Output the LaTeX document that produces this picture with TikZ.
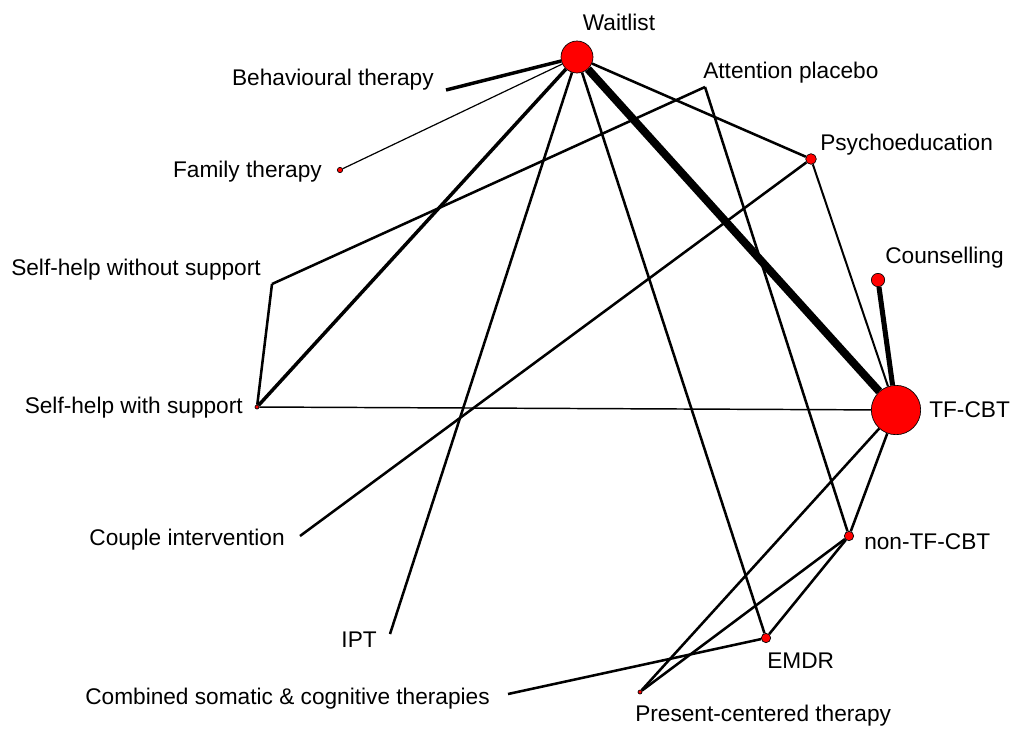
\documentclass[tikz,border=0pt]{standalone}
\usepackage{fontspec}
\setmainfont{Liberation Sans}
\usetikzlibrary{backgrounds}
\tikzset{
  trt/.style={circle, fill=red, draw=black, line width=0.5pt, inner sep=0pt, minimum size=#1},
  lab/.style={inner sep=0pt, font=\fontsize{17}{20}\selectfont},
  link/.style={draw=black, line width=#1}
}
\begin{document}
\begin{tikzpicture}[x=0.75pt,y=0.75pt,yscale=-1,xscale=1]
\path[use as bounding box] (0,0) rectangle (1012,733);

%Treatments with a marker
\node[trt=24] (wl) at (577,57) {};
\node[trt=37] (tf) at (896,410) {};
\node[trt=10] (co) at (878,280) {};
\node[trt=8] (pe) at (811,159) {};
\node[trt=7] (ntf) at (849,536) {};
\node[trt=7] (emdr) at (766,638) {};
\node[trt=4] (ft) at (340,170) {};
\node[trt=3] (shs) at (257,407) {};
\node[trt=3] (pc) at (640,692) {};
%Treatments without a marker
\coordinate (bt) at (446,90);
\coordinate (ap) at (705,87);
\coordinate (shw) at (272,284);
\coordinate (ci) at (300,536);
\coordinate (ipt) at (390,634);
\coordinate (cs) at (508,694);

\begin{pgfonlayer}{background}
%Lines from Waitlist
\draw[link=2.6pt] (wl) -- (bt);
\draw[link=0.9pt] (wl) -- (ft);
\draw[link=2.6pt] (wl) -- (shs);
\draw[link=1.9pt] (wl) -- (ipt);
\draw[link=1.9pt] (wl) -- (emdr);
\draw[link=6pt] (wl) -- (tf);
\draw[link=1.9pt] (wl) -- (pe);
%Other lines
\draw[link=1.9pt] (ap) -- (shw);
\draw[link=1.9pt] (ap) -- (ntf);
\draw[link=1.9pt] (pe) -- (ci);
\draw[link=1.5pt] (pe) -- (tf);
\draw[link=3.8pt] (co) -- (tf);
\draw[link=1.9pt] (shw) -- (shs);
\draw[link=1.1pt] (shs) -- (tf);
\draw[link=1.9pt] (tf) -- (ntf);
\draw[link=1.9pt] (tf) -- (pc);
\draw[link=1.9pt] (ntf) -- (emdr);
\draw[link=1.9pt] (ntf) -- (pc);
\draw[link=1.9pt] (emdr) -- (cs);
\end{pgfonlayer}

% Text Node
\node[lab] (wl-t) at (619,22) {Waitlist};
% Text Node
\node[lab, anchor=east] (bt-t) at (434,80) {Behavioural therapy};
% Text Node
\node[lab, anchor=east] (ft-t) at (322,172) {Family therapy};
% Text Node
\node[lab, anchor=west] (ap-t) at (703,73) {Attention placebo};
% Text Node
\node[lab, anchor=west] (pe-t) at (820,145) {Psychoeducation};
% Text Node
\node[lab, anchor=west] (co-t) at (885,258) {Counselling};
% Text Node
\node[lab, anchor=east] (shw-t) at (261,270) {Self-help without support};
% Text Node
\node[lab, anchor=east] (shs-t) at (243,408) {Self-help with support};
% Text Node
\node[lab, anchor=west] (tf-t) at (929,410) {TF-CBT};
% Text Node
\node[lab, anchor=east] (ci-t) at (285,540) {Couple intervention};
% Text Node
\node[lab, anchor=west] (ntf-t) at (864,542) {non-TF-CBT};
% Text Node
\node[lab, anchor=east] (ipt-t) at (377,640) {IPT};
% Text Node
\node[lab, anchor=west] (emdr-t) at (767,661) {EMDR};
% Text Node
\node[lab, anchor=east] (cs-t) at (490,699) {Combined somatic \& cognitive therapies};
% Text Node
\node[lab, anchor=west] (pc-t) at (635,716) {Present-centered therapy};

\end{tikzpicture}
\end{document}
